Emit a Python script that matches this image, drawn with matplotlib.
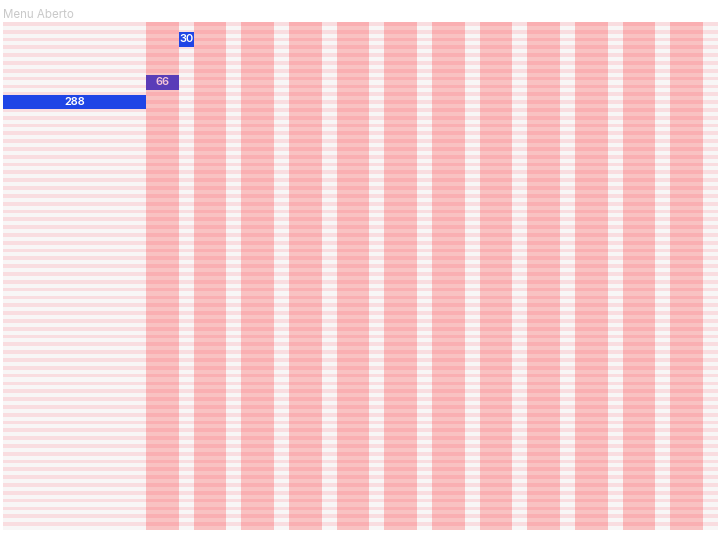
import matplotlib
matplotlib.use("Agg")
import matplotlib.pyplot as plt

# ---- data ----
title = "Menu Aberto"
x_max = 1440
n_rows = 65

seg_values = [288, 66, 30]
seg_starts = [0, 288, 354]
seg_rows = [10.25, 7.7, 2.2]
seg_colors = ["#1f45e6", "#5a3db8", "#1f45e6"]
seg_text_colors = ["#ffffff", "#f6c4d8", "#ffffff"]

band_starts = [288, 384, 480, 576, 672, 768, 864, 960, 1056, 1152, 1248, 1344]
band_widths = [66, 66, 66, 66, 66, 66, 66, 66, 66, 66, 66, 66]

plt.rcParams['font.family'] = ['Inter', 'DejaVu Sans']

fig = plt.figure(figsize=(7.28, 5.45), dpi=100)
ax = fig.add_axes([3/728, 15/545, 715/728, 508/545])
ax.set_xlim(0, x_max)
ax.set_ylim(n_rows, 0)
ax.set_facecolor("#f8f6f6")

for i in range(n_rows):
    ax.axhspan(i, i + 0.48, color="#f9dde0", lw=0, zorder=0)

for s, w in zip(band_starts, band_widths):
    ax.axvspan(s, s + w, color="#ff2020", alpha=0.24, lw=0, zorder=1)

bars = ax.barh(seg_rows, seg_values, left=seg_starts, height=1.88,
               color=seg_colors, zorder=3, lw=0)
for b, v, tc in zip(bars, seg_values, seg_text_colors):
    ax.text(b.get_x() + b.get_width()/2, b.get_y() + b.get_height()/2, str(v),
            ha="center", va="center", color=tc, fontsize=8,
            fontweight="semibold", zorder=4)

for sp in ax.spines.values():
    sp.set_visible(False)
ax.set_xticks([])
ax.set_yticks([])

fig.text(3/728, 1 - 17.5/545, title, ha="left", va="baseline", color="#c9c9c9", fontsize=8.3)

fig.savefig("out.png", dpi=100)
